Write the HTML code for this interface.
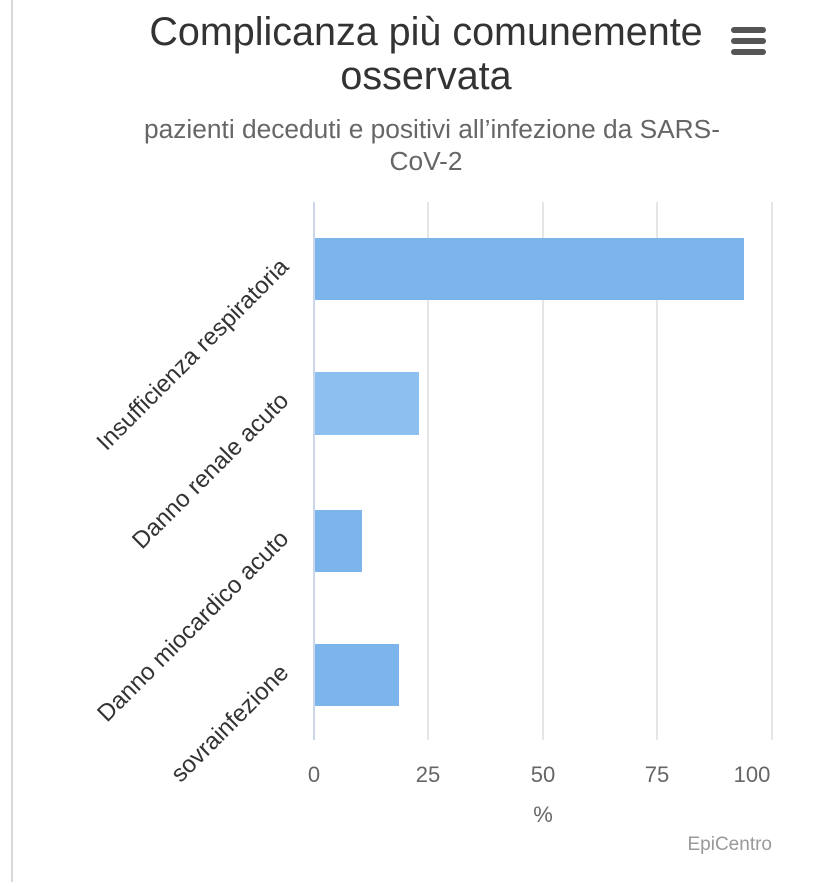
<!DOCTYPE html>
<html><head><meta charset="utf-8"><style>
body{margin:0;background:#fff;}
svg{display:block;font-family:"Liberation Sans",sans-serif;}
</style></head><body>
<svg width="828" height="882" viewBox="0 0 828 882">
<rect width="828" height="882" fill="#fff"/>
<line x1="12" y1="0" x2="12" y2="882" stroke="#d8d8d8" stroke-width="2"/>
<text x="426" y="45" font-size="39.5" fill="#333" text-anchor="middle">Complicanza più comunemente</text>
<text x="426" y="89" font-size="39.5" fill="#333" text-anchor="middle">osservata</text>
<text x="432" y="138" font-size="26.3" fill="#666" text-anchor="middle">pazienti deceduti e positivi all’infezione da SARS-</text>
<text x="426" y="170" font-size="26.3" fill="#666" text-anchor="middle">CoV-2</text>
<g fill="#555"><rect x="731" y="27" width="35" height="6" rx="3"/><rect x="731" y="38" width="35" height="6" rx="3"/><rect x="731" y="49" width="35" height="6" rx="3"/></g>
<g stroke="#e6e6e6" stroke-width="2">
<line x1="428" y1="202" x2="428" y2="740"/><line x1="543" y1="202" x2="543" y2="740"/><line x1="657" y1="202" x2="657" y2="740"/><line x1="772" y1="202" x2="772" y2="740"/>
</g>
<line x1="314" y1="202" x2="314" y2="740" stroke="#ccd6eb" stroke-width="2"/>
<g fill="#7cb5ec">
<rect x="315" y="238" width="429" height="62"/>
<rect x="315" y="372" width="104" height="63" fill="#8dbff0"/>
<rect x="315" y="510" width="47" height="62"/>
<rect x="315" y="644" width="84" height="62"/>
</g>
<g font-size="24" fill="#333" text-anchor="end">
<text transform="translate(290,268) rotate(-45)">Insufficienza respiratoria</text>
<text transform="translate(290,402) rotate(-45)">Danno renale acuto</text>
<text transform="translate(290,540) rotate(-45)">Danno miocardico acuto</text>
<text transform="translate(290,674) rotate(-45)">sovrainfezione</text>
</g>
<g font-size="22" fill="#666" text-anchor="middle">
<text x="314" y="782">0</text><text x="428" y="782">25</text><text x="543" y="782">50</text><text x="657" y="782">75</text><text x="752" y="782">100</text>
<text x="543" y="822">%</text>
</g>
<text x="772" y="850" font-size="19" fill="#999" text-anchor="end">EpiCentro</text>
</svg>
</body></html>
